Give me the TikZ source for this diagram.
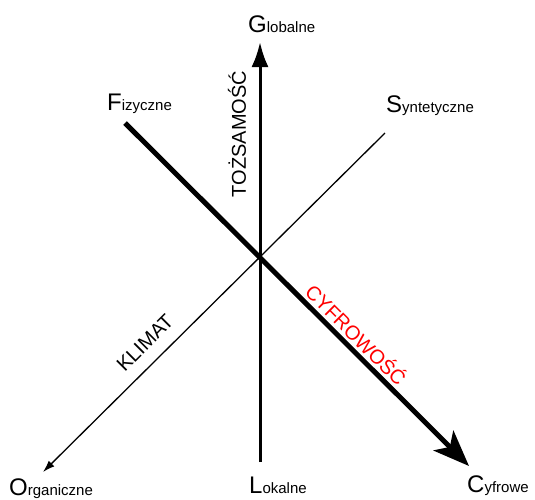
\documentclass[tikz,border=0pt]{standalone}
\usepackage{fontspec}
\setmainfont{Liberation Sans}
\usetikzlibrary{arrows.meta}

% Etykiety biegunow: duza litera + reszta slowa
\newcommand{\etykieta}[2]{{\fontsize{24}{24}\selectfont #1}{\fontsize{15}{15}\selectfont #2}}

\tikzset{
  biegun/.style={anchor=base west, inner sep=0pt},
  osopis/.style={font=\fontsize{20}{20}\selectfont, inner sep=0pt}
}

\begin{document}
\begin{tikzpicture}[x=1pt,y=-1pt]
      \useasboundingbox (0,0) rectangle (535,499);

      % Konce osi
      \coordinate (gora) at (260,42);
      \coordinate (dol) at (260,462);
      \coordinate (fiz) at (125,123);
      \coordinate (cyf) at (469,466);
      \coordinate (syn) at (385,133);
      \coordinate (org) at (43,472);

      % Osie
      \draw[line width=3pt, -{Latex[length=25pt,width=17pt]}] (dol) -- (gora);
      \draw[line width=5pt, -{Stealth[length=36pt,width=28pt,inset=9pt]}] (fiz) -- (cyf);
      \draw[line width=1.3pt, -{Latex[length=12pt,width=8pt]}] (syn) -- (org);

      % Bieguny
      \node[biegun] (G) at (248,32) {\etykieta{G}{lobalne}};
      \node[biegun] (F) at (107,110) {\etykieta{F}{izyczne}};
      \node[biegun] (S) at (386,112) {\etykieta{S}{yntetyczne}};
      \node[biegun] (O) at (9,495) {\etykieta{O}{rganiczne}};
      \node[biegun] (L) at (249,493) {\etykieta{L}{okalne}};
      \node[biegun] (C) at (467,492) {\etykieta{C}{yfrowe}};

      % Opisy osi
      \node[osopis, rotate=90] (tozsamosc) at (237,134) {TOŻSAMOŚĆ};
      \node[osopis, rotate=45] (klimat) at (145,343) {KLIMAT};
      \node[osopis, rotate=-45, text=red] (cyfrowosc) at (357,334) {CYFROWOŚĆ};
\end{tikzpicture}
\end{document}
